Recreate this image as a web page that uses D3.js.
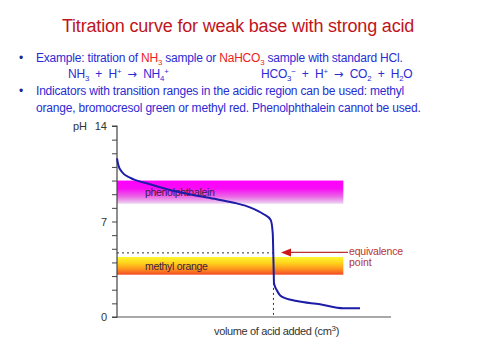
<!DOCTYPE html>
<html><head><meta charset="utf-8">
<script src="https://cdn.jsdelivr.net/npm/d3@7"></script>
<style>body{margin:0;background:#fff}svg{display:block}</style>
</head><body>
<svg id="c" width="480" height="360"></svg>
<script>
// ---- data ----
const titleText = "Titration curve for weak base with strong acid";
const volumes = [0, 0.24, 0.86, 2.37, 5.42, 9.67, 13.92, 18.19, 21.84, 24.27, 26.70, 28.05, 28.42, 28.52, 28.60, 28.65, 29.14, 30.06, 32.80, 37.05, 41.30, 44.35];
const pHValues = [11.63, 11.14, 10.65, 10.21, 9.80, 9.31, 8.94, 8.63, 8.33, 8.04, 7.55, 7.11, 6.14, 4.67, 3.2, 2.47, 1.98, 1.49, 1.17, 0.93, 0.64, 0.64];
const indicatorNames = ["phenolphthalein", "methyl orange"];
const indicatorLow = [8.3, 3.1];
const indicatorHigh = [10.0, 4.4];
const indicatorEnd = 41.3;
const equivVolume = 28.55;
const equivPH = 4.7;
const yTickLabels = [0, 7, 14];
const yMinorTicks = d3.range(0, 15);
const xAxisLabel = "volume of acid added (cm";
const yAxisLabel = "pH";

// ---- layout ----
const svg = d3.select("#c");
const x = d3.scaleLinear().domain([0, 50]).range([117, 391]);
const y = d3.scaleLinear().domain([0, 14]).range([317, 126]);
const font = "'Liberation Sans', Arial, sans-serif";

// title
svg.append("text").attr("x", 238).attr("y", 32).attr("text-anchor", "middle")
  .attr("font-family", font).attr("font-size", 18).attr("letter-spacing", -0.18)
  .attr("fill", "#c0141c").text(titleText);

const blue = "#2b2bd4", red = "#ee1c1c";
const FS = 12;
function richText(xp, yp, segs, size) {
  const t = svg.append("text").attr("x", xp).attr("y", yp).attr("font-family", font)
    .attr("font-size", size).attr("letter-spacing", -0.2).attr("fill", blue).attr("xml:space", "preserve");
  segs.forEach(s => {
    const sp = t.append("tspan").text(s.t);
    if (s.c) sp.attr("fill", s.c);
    if (s.sub) sp.attr("font-size", size * 0.65).attr("dy", 2.5);
    if (s.sup) sp.attr("font-size", size * 0.65).attr("dy", -4.5);
    if (s.arrow) sp.attr("font-family", "'DejaVu Sans', sans-serif").attr("font-size", size * 0.95);
    if (s.back) sp.attr("dy", s.back);
  });
  return t;
}
// bullets
[62, 95].forEach(b => svg.append("text").attr("x", 19).attr("y", b).attr("font-family", font)
  .attr("font-size", FS).attr("fill", "#23238f").text("•"));
richText(36, 62, [{t: "Example: titration of "}, {t: "NH", c: red}, {t: "3", c: red, sub: 1},
  {t: " sample or ", back: -2.5}, {t: "NaHCO", c: red}, {t: "3", c: red, sub: 1},
  {t: " sample with standard HCl.", back: -2.5}], FS);
richText(68, 78, [{t: "NH"}, {t: "3", sub: 1}, {t: "  +  H", back: -2.5}, {t: "+", sup: 1},
  {t: "  ", back: 4.5}, {t: "\u2192", arrow: 1}, {t: "  NH"}, {t: "4", sub: 1}, {t: "+", sup: 1, back: -7}], FS);
richText(261, 78, [{t: "HCO"}, {t: "3", sub: 1}, {t: "\u2212", sup: 1, back: -7}, {t: "  +  H", back: 4.5},
  {t: "+", sup: 1}, {t: "  ", back: 4.5}, {t: "\u2192", arrow: 1}, {t: "  CO"}, {t: "2", sub: 1}, {t: "  +  H", back: -2.5},
  {t: "2", sub: 1}, {t: "O", back: -2.5}], FS);
richText(36, 95, [{t: "Indicators with transition ranges in the acidic region can be used: methyl"}], FS);
richText(36, 112, [{t: "orange, bromocresol green or methyl red. Phenolphthalein cannot be used."}], FS);

// gradients
const defs = svg.append("defs");
const g1 = defs.append("linearGradient").attr("id", "gPh").attr("x1", 0).attr("y1", 0).attr("x2", 0).attr("y2", 1);
[[0, "#ff00ff"], [0.35, "#f70cf4"], [0.7, "#ea6ae6"], [1, "#ecd8f2"]].forEach(s => g1.append("stop").attr("offset", s[0]).attr("stop-color", s[1]));
const g2 = defs.append("linearGradient").attr("id", "gMo").attr("x1", 0).attr("y1", 0).attr("x2", 0).attr("y2", 1);
[[0, "#fff830"], [0.35, "#ffd21c"], [0.65, "#ff9a1c"], [1, "#f24a28"]].forEach(s => g2.append("stop").attr("offset", s[0]).attr("stop-color", s[1]));
const grads = ["url(#gPh)", "url(#gMo)"];

// bands
svg.selectAll("rect.band").data(indicatorNames).join("rect").attr("class", "band")
  .attr("x", x(0)).attr("width", (d, i) => x(indicatorEnd) - x(0))
  .attr("y", (d, i) => y(indicatorHigh[i])).attr("height", (d, i) => y(indicatorLow[i]) - y(indicatorHigh[i]))
  .attr("fill", (d, i) => grads[i]);
svg.selectAll("text.band").data(indicatorNames).join("text").attr("class", "band")
  .attr("x", x(5.1)).attr("y", (d, i) => (y(indicatorHigh[i]) + y(indicatorLow[i])) / 2 + 4)
  .attr("font-family", font).attr("font-size", 10.5).attr("letter-spacing", -0.3).attr("fill", "#3a2040").text(d => d);

// axes
const yAxis = d3.axisLeft(y).tickValues(yMinorTicks).tickSize(5).tickFormat("");
const ya = svg.append("g").attr("transform", `translate(${x(0)},0)`).call(yAxis);
ya.select(".domain").attr("stroke", "#444").attr("stroke-width", 1.2).attr("d", `M-5,${y(14)}H0V${y(0)}H-5`);
ya.selectAll(".tick line").attr("stroke", "#444");
svg.append("line").attr("x1", x(0)).attr("x2", x(50)).attr("y1", y(0)).attr("y2", y(0)).attr("stroke", "#555").attr("stroke-width", 1.2);
svg.selectAll("text.yl").data(yTickLabels).join("text").attr("class", "yl")
  .attr("x", x(0) - 10).attr("y", d => y(d) + 4).attr("text-anchor", "end")
  .attr("font-family", font).attr("font-size", 11).attr("fill", "#333").text(d => d);
svg.append("text").attr("x", 73).attr("y", y(14) + 4).attr("font-family", font).attr("font-size", 11).attr("fill", "#333").text(yAxisLabel);
const xl = svg.append("text").attr("x", 214).attr("y", 335).attr("font-family", font).attr("font-size", 11)
  .attr("letter-spacing", -0.35).attr("fill", "#333");
xl.append("tspan").text(xAxisLabel);
xl.append("tspan").text("3").attr("font-size", 8).attr("dy", -4);
xl.append("tspan").text(")").attr("dy", 4);

// dashed guides
svg.append("line").attr("x1", x(0)).attr("x2", x(equivVolume)).attr("y1", y(equivPH)).attr("y2", y(equivPH))
  .attr("stroke", "#333").attr("stroke-dasharray", "2,3");
svg.append("line").attr("x1", x(equivVolume)).attr("x2", x(equivVolume)).attr("y1", y(2.5)).attr("y2", y(0))
  .attr("stroke", "#333").attr("stroke-dasharray", "2,3");

// curve
const pts = volumes.map((v, i) => [v, pHValues[i]]);
svg.append("path").datum(pts).attr("fill", "none").attr("stroke", "#1c1ca8").attr("stroke-width", 2)
  .attr("d", d3.line().x(d => x(d[0])).y(d => y(d[1])).curve(d3.curveMonotoneX));

// arrow + label
const ar = "#b83232";
svg.append("line").attr("x1", 348).attr("x2", 289).attr("y1", y(equivPH) - 0.5).attr("y2", y(equivPH) - 0.5).attr("stroke", ar).attr("stroke-width", 1.2);
svg.append("path").attr("d", `M281,${y(equivPH) - 0.5}l10,-4v8z`).attr("fill", "#cc1818");
svg.append("text").attr("x", 349).attr("y", 255).attr("font-family", font).attr("font-size", 10.5)
  .attr("letter-spacing", -0.2).attr("fill", ar).text("equivalence");
svg.append("text").attr("x", 349).attr("y", 266).attr("font-family", font).attr("font-size", 10.5)
  .attr("fill", ar).text("point");
</script>
</body></html>
